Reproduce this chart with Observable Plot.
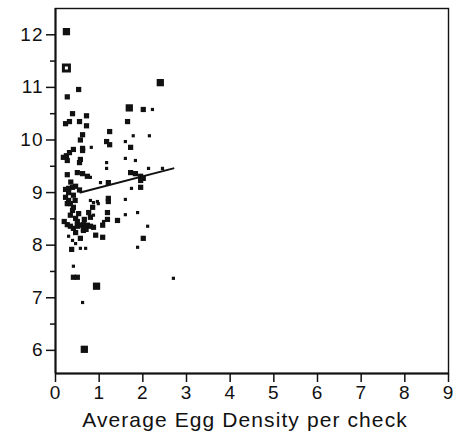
<!DOCTYPE html>
<html><head><meta charset="utf-8">
<script src="https://cdn.jsdelivr.net/npm/d3@7"></script>
<script src="https://cdn.jsdelivr.net/npm/@observablehq/plot@0.6"></script>
<style>
body{margin:0;background:#fff}
svg{font-family:"Liberation Sans",Arial,sans-serif}
.ticklab text{letter-spacing:1px}
.xlab text{letter-spacing:1.1px}
</style>
</head><body><div id="chart"></div>
<script>
// Average egg density per check (x), measured value (y), marker size class (1 small, 2 medium, 3 large)
const density = [0.25,0.53,0.27,2.40,0.39,0.71,0.23,0.32,0.55,0.71,1.69,2.01,2.22,1.65,1.24,0.62,1.17,1.24,0.82,0.57,
  1.78,2.15,1.60,1.72,0.41,0.62,0.32,0.25,0.18,0.27,0.62,0.57,0.55,1.60,1.83,1.17,1.17,0.27,0.50,0.62,
  0.73,0.80,1.72,1.83,1.95,2.01,1.95,2.13,2.45,1.74,1.95,1.03,1.21,0.23,0.30,0.39,0.46,0.23,0.30,0.27,
  0.34,0.41,0.39,0.53,0.80,0.87,0.96,0.98,1.21,1.21,1.60,0.85,0.76,0.80,0.87,1.19,1.60,1.88,1.19,1.10,
  1.42,0.27,0.34,0.41,0.50,0.57,0.64,0.73,0.80,0.87,0.64,1.08,2.11,0.46,0.64,0.30,0.92,1.08,0.57,0.39,
  2.01,1.88,0.46,0.37,0.57,0.69,0.41,0.41,0.50,0.94,0.62,0.66,2.70,0.34,0.46,0.66,0.30,0.41,
  0.20,0.50,0.70,0.35,0.55,0.45];
const value = [12.06,10.96,10.82,11.09,10.50,10.46,10.31,10.35,10.35,10.27,10.61,10.58,10.58,10.35,10.16,10.10,9.97,9.91,9.86,10.00,
  10.08,10.08,9.97,9.86,9.82,9.84,9.76,9.70,9.67,9.61,9.80,9.63,9.57,9.65,9.61,9.57,9.46,9.34,9.38,9.36,
  9.31,9.29,9.38,9.36,9.31,9.27,9.23,9.46,9.46,9.08,9.10,9.19,9.19,9.06,9.08,9.10,9.12,8.91,8.85,8.79,
  8.79,8.72,8.66,8.60,8.85,8.81,8.83,8.79,8.89,8.83,8.87,8.72,8.62,8.53,8.57,8.62,8.58,8.62,8.49,8.45,
  8.47,8.39,8.36,8.32,8.36,8.38,8.39,8.38,8.36,8.34,8.30,8.38,8.36,8.24,8.28,8.17,8.19,8.15,8.13,8.09,
  8.13,7.96,8.03,7.92,7.94,7.94,7.60,7.39,7.39,7.22,6.91,6.02,7.37,8.57,8.51,8.49,9.00,8.95,
  8.45,8.45,8.30,9.20,9.05,8.85];
const sizeClass = [3,2,2,3,2,2,2,2,2,2,3,2,1,2,2,2,2,2,1,2,
  1,1,1,2,2,2,2,2,2,2,2,2,2,1,1,1,1,2,2,2,
  2,1,2,2,2,2,2,1,1,1,2,1,2,2,2,2,2,2,2,2,
  2,2,2,2,1,1,1,1,2,2,1,2,2,2,1,2,1,1,2,1,
  2,2,2,2,2,2,2,2,2,2,2,2,1,2,2,1,2,2,2,1,
  2,1,1,2,1,1,1,2,2,3,1,3,1,2,2,2,2,2,
  2,2,2,2,2,2];
// open (hollow) marker
const openDensity = [0.25];
const openValue = [11.37];
// fitted regression line
const fitDensity = [0.57, 2.70];
const fitValue = [9.00, 9.46];
// axis ticks
const xTicks = [0,1,2,3,4,5,6,7,8,9];
const yTicks = [6,7,8,9,10,11,12];
const yMinorTicks = [6.5,7.5,8.5,9.5,10.5,11.5];
const xLabel = "Average Egg Density per check";

const pts = density.map((d, i) => ({x: d, y: value[i], s: sizeClass[i]}));
const openPts = openDensity.map((d, i) => ({x: d, y: openValue[i]}));
const fit = fitDensity.map((d, i) => ({x: d, y: fitValue[i]}));

const chart = Plot.plot({
  width: 459,
  height: 443,
  marginLeft: 55,
  marginRight: 11,
  marginTop: 8,
  marginBottom: 70,
  style: {fontFamily: '"Liberation Sans", Arial, sans-serif', color: "#111", background: "#fff"},
  x: {domain: [0, 9]},
  y: {domain: [5.56, 12.5]},
  r: {type: "linear", domain: [1, 3], range: [1.8, 4.1]},
  marks: [
    Plot.frame({stroke: "#111", strokeWidth: 1.4}),
    Plot.axisY(yMinorTicks, {tickSize: 5, tickFormat: () => "", label: null, strokeWidth: 1.5}),
    Plot.axisY(yTicks, {tickSize: 9, tickPadding: 3, fontSize: 19, label: null, strokeWidth: 1.5, tickFormat: d => String(d), className: "ticklab"}),
    Plot.axisX(xTicks, {tickSize: 9, tickPadding: 3, fontSize: 19, label: null, strokeWidth: 1.5, tickFormat: d => String(d), className: "ticklab"}),
    Plot.ruleX([0], {stroke: "#111", strokeWidth: 2}),
    Plot.ruleY([5.56], {stroke: "#111", strokeWidth: 2}),
    Plot.dot(pts, {x: "x", y: "y", r: "s", symbol: "square", fill: "#111", stroke: null}),
    Plot.dot(openPts, {x: "x", y: "y", r: 3.4, symbol: "square", fill: "#fff", stroke: "#111", strokeWidth: 3}),
    Plot.line(fit, {x: "x", y: "y", stroke: "#111", strokeWidth: 2}),
    Plot.text([xLabel], {frameAnchor: "bottom", dx: -7, dy: 47, fontSize: 21, fill: "#111", lineAnchor: "middle", className: "xlab"})
  ]
});
document.getElementById("chart").appendChild(chart);
</script>
</body></html>
